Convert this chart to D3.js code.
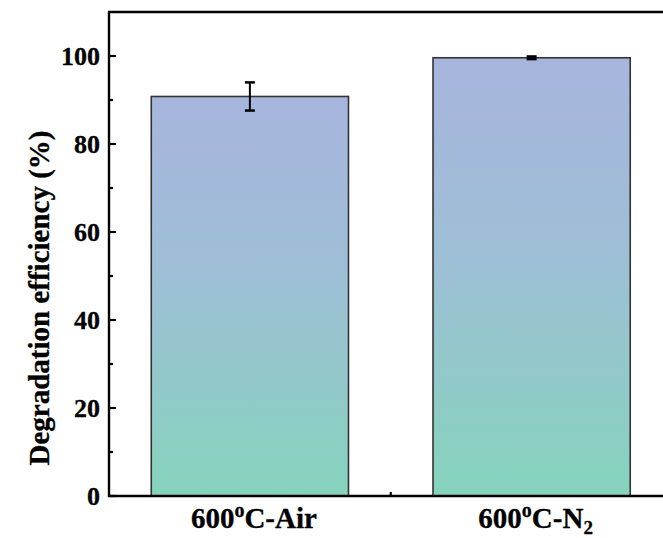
<!DOCTYPE html>
<html><head><meta charset="utf-8">
<script src="https://cdn.jsdelivr.net/npm/d3@7"></script>
<style>body{margin:0;background:#fff}svg{display:block}</style>
</head><body>
<script>
const categories = ["600°C-Air", "600°C-N2"];
const values = [90.8, 99.6];
const errors = [3.2, 0.3];
const yTicks = [0, 20, 40, 60, 80, 100];
const yMinor = [10, 30, 50, 70, 90];
const yLabel = "Degradation efficiency (%)";

const W = 663, H = 538;
const svg = d3.select("body").append("svg").attr("width", W).attr("height", H);
const font = "'Liberation Serif','Times New Roman',serif";

const mLeft = 109, mTop = 12, mBottom = 496, mRight = 672.5;
const x = d3.scaleLinear().domain([0.5, 2.5]).range([mLeft, mRight]);
const y = d3.scaleLinear().domain([0, 110]).range([mBottom, mTop]);
const barW = (x(2) - x(1)) * 0.7;

const defs = svg.append("defs");
const g = defs.append("linearGradient").attr("id", "grad").attr("x1", 0).attr("y1", 0).attr("x2", 0).attr("y2", 1);
g.append("stop").attr("offset", "0%").attr("stop-color", "#a7b5dd");
g.append("stop").attr("offset", "45%").attr("stop-color", "#9ebfd6");
g.append("stop").attr("offset", "100%").attr("stop-color", "#85d3bc");

// bars
svg.selectAll("rect.bar").data(values).enter().append("rect")
  .attr("class", "bar")
  .attr("x", (d, i) => x(i + 1) - barW / 2)
  .attr("y", d => y(d))
  .attr("width", barW)
  .attr("height", d => y(0) - y(d))
  .attr("fill", "url(#grad)")
  .attr("stroke", "#333")
  .attr("stroke-width", 1.6);

// error bars
const eb = svg.selectAll("g.err").data(values).enter().append("g").attr("class", "err");
eb.append("line")
  .attr("x1", (d, i) => x(i + 1)).attr("x2", (d, i) => x(i + 1))
  .attr("y1", (d, i) => y(d + errors[i])).attr("y2", (d, i) => y(d - errors[i]))
  .attr("stroke", "#000").attr("stroke-width", 2);
["+", "-"].forEach(s => {
  eb.append("line")
    .attr("x1", (d, i) => x(i + 1) - 5).attr("x2", (d, i) => x(i + 1) + 5)
    .attr("y1", (d, i) => y(s === "+" ? d + errors[i] : d - errors[i]))
    .attr("y2", (d, i) => y(s === "+" ? d + errors[i] : d - errors[i]))
    .attr("stroke", "#000").attr("stroke-width", 2.5);
});

// frame: left axis, bottom axis, top border
const ax = svg.append("g");
ax.append("line").attr("x1", mLeft).attr("x2", mLeft).attr("y1", mTop).attr("y2", mBottom + 1).attr("stroke", "#000").attr("stroke-width", 2.4);
ax.append("line").attr("x1", mLeft - 1).attr("x2", W).attr("y1", mBottom).attr("y2", mBottom).attr("stroke", "#000").attr("stroke-width", 2.4);
ax.append("line").attr("x1", mLeft - 1).attr("x2", W).attr("y1", mTop).attr("y2", mTop).attr("stroke", "#000").attr("stroke-width", 2.4);

// y ticks (inside)
ax.selectAll("line.ymaj").data(yTicks).enter().append("line")
  .attr("x1", mLeft).attr("x2", mLeft + 7).attr("y1", d => y(d)).attr("y2", d => y(d))
  .attr("stroke", "#000").attr("stroke-width", 2.2);
ax.selectAll("line.ymin").data(yMinor).enter().append("line")
  .attr("x1", mLeft).attr("x2", mLeft + 4).attr("y1", d => y(d)).attr("y2", d => y(d))
  .attr("stroke", "#000").attr("stroke-width", 2.2);
ax.selectAll("text.yt").data(yTicks).enter().append("text")
  .attr("x", mLeft - 9).attr("y", d => y(d) + 9)
  .attr("text-anchor", "end")
  .attr("font-family", font).attr("font-weight", "bold").attr("font-size", 26)
  .attr("stroke", "#000").attr("stroke-width", 0.3)
  .text(d => d);

// x minor tick between categories
ax.append("line").attr("x1", x(1.5)).attr("x2", x(1.5)).attr("y1", mBottom).attr("y2", mBottom - 4)
  .attr("stroke", "#000").attr("stroke-width", 2.2);

// x labels
categories.forEach((c, i) => {
  const t = ax.append("text").attr("x", x(i + 1) + 4).attr("y", 528)
    .attr("text-anchor", "middle")
    .attr("font-family", font).attr("font-weight", "bold").attr("font-size", 29)
    .attr("stroke", "#000").attr("stroke-width", 0.3);
  t.append("tspan").text("600");
  t.append("tspan").text("o").attr("font-size", 20).attr("dy", -11);
  if (c.endsWith("N2")) {
    t.append("tspan").text("C-N").attr("dy", 11);
    t.append("tspan").text("2").attr("font-size", 19).attr("dy", 6);
  } else {
    t.append("tspan").text("C-Air").attr("dy", 11);
  }
});

// y label
svg.append("text")
  .attr("transform", `translate(49,${(mTop + mBottom) / 2 + 44}) rotate(-90)`)
  .attr("text-anchor", "middle")
  .attr("font-family", font).attr("font-weight", "bold").attr("font-size", 29)
  .attr("stroke", "#000").attr("stroke-width", 0.3)
  .text(yLabel);
</script>
</body></html>
